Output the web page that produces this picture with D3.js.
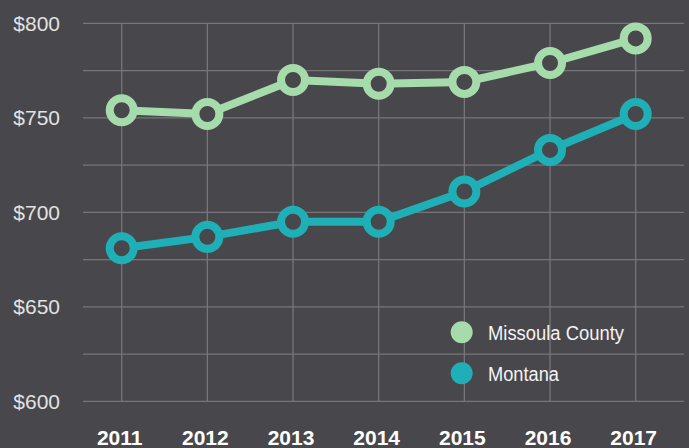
<!DOCTYPE html>
<html><head><meta charset="utf-8">
<script src="https://cdn.jsdelivr.net/npm/d3@7"></script>
<style>html,body{margin:0;padding:0;background:#48474b;}svg{display:block;}</style>
</head><body>
<script>
const years = ["2011","2012","2013","2014","2015","2016","2017"];
const missoula = [754, 752, 770, 768, 769, 779, 792];
const montana = [681, 687, 695, 695, 711, 733, 752];
const yTicks = [600, 650, 700, 750, 800];
const yGrid = [600, 625, 650, 675, 700, 725, 750, 775, 800];
const seriesNames = ["Missoula County", "Montana"];
const seriesColors = ["#a6dbab", "#1fafb6"];
const legendWidths = [136, 71];

const W = 689, H = 448, bg = "#48474b";
const svg = d3.select("body").append("svg").attr("width", W).attr("height", H);
svg.append("rect").attr("width", W).attr("height", H).attr("fill", bg);

const x = d3.scalePoint().domain(years).range([121.7, 635.7]);
const y = d3.scaleLinear().domain([600, 800]).range([401.3, 23.3]);
const gx0 = 83, gx1 = 684;

const grid = svg.append("g").attr("stroke", "#76767a").attr("stroke-width", 1.3);
grid.selectAll("line.h").data(yGrid).join("line").attr("class","h")
  .attr("x1", gx0).attr("x2", gx1).attr("y1", d => y(d)).attr("y2", d => y(d));
grid.selectAll("line.v").data(years).join("line").attr("class","v")
  .attr("x1", d => x(d)).attr("x2", d => x(d)).attr("y1", y(800)).attr("y2", y(600));

svg.append("g").selectAll("text").data(yTicks).join("text")
  .attr("x", 60).attr("y", d => y(d)).attr("dy", "0.36em")
  .attr("text-anchor", "end").attr("fill", "#e2e2e2")
  .attr("font-family", "Liberation Sans, Arial, sans-serif").attr("font-size", 21)
  .attr("font-weight", 300)
  .text(d => "$" + d);

svg.append("g").selectAll("text").data(years).join("text")
  .attr("x", d => x(d) - 2).attr("y", 445)
  .attr("text-anchor", "middle").attr("fill", "#ffffff")
  .attr("font-family", "Liberation Sans, Arial, sans-serif").attr("font-weight", "bold").attr("font-size", 21)
  .text(d => d);

const data = [missoula, montana];
const line = d3.line().x((d, i) => x(years[i])).y(d => y(d));
data.forEach((vals, si) => {
  const g = svg.append("g");
  g.append("path").datum(vals).attr("d", line).attr("fill", "none")
    .attr("stroke", seriesColors[si]).attr("stroke-width", 8);
  g.selectAll("circle").data(vals).join("circle")
    .attr("cx", (d, i) => x(years[i])).attr("cy", d => y(d)).attr("r", 12)
    .attr("fill", bg).attr("stroke", seriesColors[si]).attr("stroke-width", 8);
});

const leg = svg.append("g");
const legY = [332.3, 373.3];
seriesNames.forEach((n, i) => {
  leg.append("circle").attr("cx", 461.7).attr("cy", legY[i]).attr("r", 11).attr("fill", seriesColors[i]);
  leg.append("text").attr("x", 488).attr("y", legY[i]).attr("dy", "0.36em")
    .attr("fill", "#f4f4f4").attr("font-family", "Liberation Sans, Arial, sans-serif")
    .attr("font-size", 20).attr("textLength", legendWidths[i]).attr("lengthAdjust", "spacingAndGlyphs")
    .text(n);
});
</script>
</body></html>
